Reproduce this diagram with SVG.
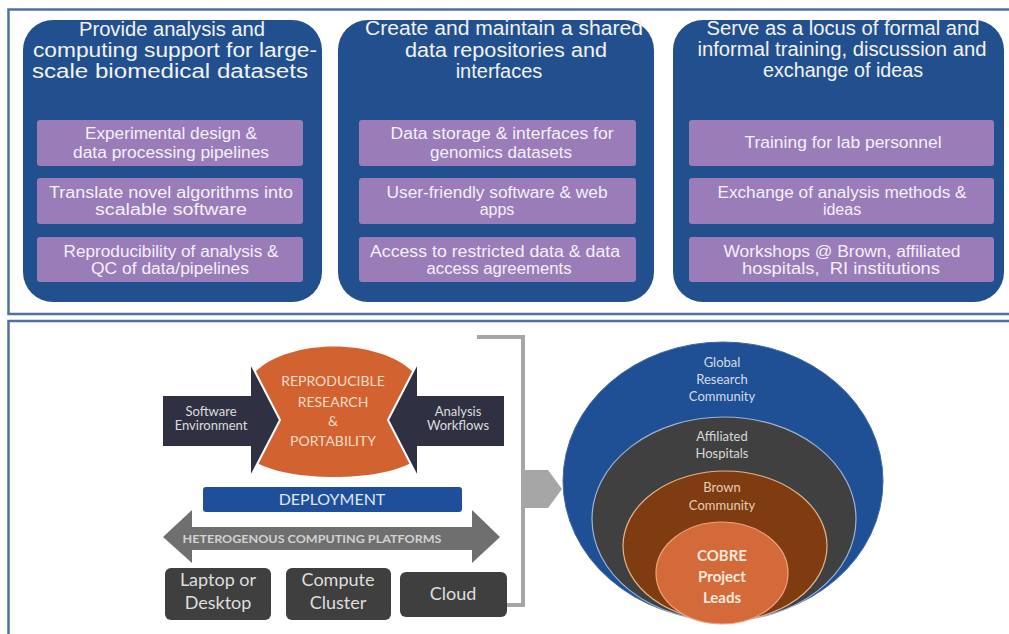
<svg xmlns="http://www.w3.org/2000/svg" width="1009" height="634" viewBox="0 0 1009 634">
<style>
.frame{fill:none;stroke:#4f71a6;stroke-width:2.5}
.card{fill:#22508e}
.item{fill:#9a7cb9}
.ttl{font-family:"Liberation Sans",Arial,sans-serif;font-size:20px;fill:#f2f2f2;text-anchor:middle}
.itx{font-family:"Liberation Sans",Arial,sans-serif;font-size:16px;fill:#f4f0f8;text-anchor:middle}
.lt{font-family:Lato,"Open Sans",sans-serif;text-anchor:middle}
.dark{fill:#2f3142;stroke:#fff;stroke-width:2}
.plat{fill:#3f3f3f}
.ptx{font-size:18px;fill:#dedede}
</style>
<rect width="1009" height="634" fill="#fff"/>
<g id="frames">
<path class="frame" d="M1009,9.5 H8.5 V314 H1009"/>
<path class="frame" d="M1009,321 H8.5 V634"/>
</g>
<g id="card1">
<rect class="card" x="23" y="20" width="299" height="282" rx="30"/>
<text class="ttl" x="172" y="36" textLength="186" lengthAdjust="spacingAndGlyphs">Provide analysis and</text>
<text class="ttl" x="175" y="57" textLength="284" lengthAdjust="spacingAndGlyphs">computing support for large-</text>
<text class="ttl" x="170" y="78" textLength="276" lengthAdjust="spacingAndGlyphs">scale biomedical datasets</text>
<rect class="item" x="37" y="120" width="266" height="46" rx="3"/>
<text class="itx" x="171" y="139" textLength="172" lengthAdjust="spacingAndGlyphs">Experimental design &amp;</text>
<text class="itx" x="171" y="158" textLength="196" lengthAdjust="spacingAndGlyphs">data processing pipelines</text>
<rect class="item" x="37" y="178" width="266" height="46" rx="3"/>
<text class="itx" x="171" y="198" textLength="244" lengthAdjust="spacingAndGlyphs">Translate novel algorithms into</text>
<text class="itx" x="171" y="215" textLength="152" lengthAdjust="spacingAndGlyphs">scalable software</text>
<rect class="item" x="37" y="237" width="266" height="45" rx="3"/>
<text class="itx" x="171" y="257" textLength="215" lengthAdjust="spacingAndGlyphs">Reproducibility of analysis &amp;</text>
<text class="itx" x="170" y="274" textLength="158" lengthAdjust="spacingAndGlyphs">QC of data/pipelines</text>
</g>
<g id="card2">
<rect class="card" x="338" y="20" width="316" height="282" rx="30"/>
<text class="ttl" x="504" y="35" textLength="278" lengthAdjust="spacingAndGlyphs">Create and maintain a shared</text>
<text class="ttl" x="506" y="57" textLength="202" lengthAdjust="spacingAndGlyphs">data repositories and</text>
<text class="ttl" x="499" y="78">interfaces</text>
<rect class="item" x="359" y="120" width="277" height="46" rx="3"/>
<text class="itx" x="502" y="139" textLength="223" lengthAdjust="spacingAndGlyphs">Data storage &amp; interfaces for</text>
<text class="itx" x="501" y="158" textLength="142" lengthAdjust="spacingAndGlyphs">genomics datasets</text>
<rect class="item" x="359" y="178" width="277" height="46" rx="3"/>
<text class="itx" x="497" y="198" textLength="221" lengthAdjust="spacingAndGlyphs">User-friendly software &amp; web</text>
<text class="itx" x="497" y="215">apps</text>
<rect class="item" x="359" y="237" width="277" height="45" rx="3"/>
<text class="itx" x="495" y="257" textLength="250" lengthAdjust="spacingAndGlyphs">Access to restricted data &amp; data</text>
<text class="itx" x="499" y="274" textLength="145" lengthAdjust="spacingAndGlyphs">access agreements</text>
</g>
<g id="card3">
<rect class="card" x="673" y="20" width="331" height="282" rx="30"/>
<text class="ttl" x="843" y="35" textLength="273" lengthAdjust="spacingAndGlyphs">Serve as a locus of formal and</text>
<text class="ttl" x="842" y="56" textLength="289" lengthAdjust="spacingAndGlyphs">informal training, discussion and</text>
<text class="ttl" x="843" y="77" textLength="160" lengthAdjust="spacingAndGlyphs">exchange of ideas</text>
<rect class="item" x="689" y="120" width="305" height="46" rx="3"/>
<text class="itx" x="843" y="148" textLength="197" lengthAdjust="spacingAndGlyphs">Training for lab personnel</text>
<rect class="item" x="689" y="178" width="305" height="46" rx="3"/>
<text class="itx" x="842" y="198" textLength="249" lengthAdjust="spacingAndGlyphs">Exchange of analysis methods &amp;</text>
<text class="itx" x="842" y="215">ideas</text>
<rect class="item" x="689" y="237" width="305" height="45" rx="3"/>
<text class="itx" x="842" y="257" textLength="237" lengthAdjust="spacingAndGlyphs">Workshops @ Brown, affiliated</text>
<text class="itx" x="841" y="274" xml:space="preserve" textLength="198" lengthAdjust="spacingAndGlyphs">hospitals,  RI institutions</text>
</g>
<g id="connectors">
<path d="M477,337 H523 V605 H507" fill="none" stroke="#a6a6a6" stroke-width="4"/>
<polygon points="523,470 548,470 562,489 548,508 523,508" fill="#a6a6a6"/>
</g>
<g id="lens">
<path d="M255,372 C290,338 378,338 413,372 L413,462 C378,482 290,482 255,462 Z" fill="#d2622f"/>
<text class="lt" x="333" y="386" font-size="14" fill="#f8dccb">REPRODUCIBLE</text>
<text class="lt" x="333" y="407" font-size="14" fill="#f8dccb">RESEARCH</text>
<text class="lt" x="333" y="426" font-size="14" fill="#f8dccb">&amp;</text>
<text class="lt" x="333" y="446" font-size="14" fill="#f8dccb">PORTABILITY</text>
</g>
<g id="software">
<polygon class="dark" points="162,395 250,395 250,362 280,420 250,478 250,447 162,447"/>
<text class="lt" x="211" y="416" font-size="13" fill="#dcdcdc">Software</text>
<text class="lt" x="211" y="430" font-size="13" fill="#dcdcdc">Environment</text>
</g>
<g id="analysis">
<polygon class="dark" points="505,395 418,395 418,362 388,420 418,478 418,447 505,447"/>
<text class="lt" x="458" y="416" font-size="13" fill="#dcdcdc">Analysis</text>
<text class="lt" x="458" y="430" font-size="13" fill="#dcdcdc">Workflows</text>
</g>
<g id="deployment">
<rect x="203" y="487" width="259" height="25" rx="3" fill="#1f4f9b"/>
<text class="lt" x="332" y="505" font-size="16" fill="#dfe8f4">DEPLOYMENT</text>
</g>
<g id="platforms">
<polygon points="163,537 192,510 192,527 472,527 472,510 500,537 472,563 472,550 192,550 192,563" fill="#6f6f6f"/>
<text class="lt" x="312" y="543" font-size="12" font-weight="bold" fill="#d2d2d2" textLength="259" lengthAdjust="spacingAndGlyphs">HETEROGENOUS COMPUTING PLATFORMS</text>
</g>
<g id="laptop">
<rect class="plat" x="165" y="568" width="106" height="52" rx="6"/>
<text class="lt ptx" x="218" y="586">Laptop or</text>
<text class="lt ptx" x="218" y="609">Desktop</text>
</g>
<g id="cluster">
<rect class="plat" x="286" y="568" width="105" height="52" rx="6"/>
<text class="lt ptx" x="338" y="586">Compute</text>
<text class="lt ptx" x="338" y="609">Cluster</text>
</g>
<g id="cloud">
<rect class="plat" x="400" y="572" width="107" height="45" rx="6"/>
<text class="lt ptx" x="453" y="600">Cloud</text>
</g>
<g id="global">
<ellipse cx="723" cy="481" rx="160" ry="139" fill="#1f4f95" stroke="#3d67a8" stroke-width="1"/>
<text class="lt" x="722" y="367" font-size="13" fill="#d6dce6">Global</text>
<text class="lt" x="722" y="384" font-size="13" fill="#d6dce6">Research</text>
<text class="lt" x="722" y="401" font-size="13" fill="#d6dce6">Community</text>
</g>
<g id="hospitals">
<ellipse cx="724" cy="519" rx="132" ry="102" fill="#404040" stroke="#9eb4d2" stroke-width="1.2"/>
<text class="lt" x="722" y="441" font-size="13" fill="#d8d8d8">Affiliated</text>
<text class="lt" x="722" y="458" font-size="13" fill="#d8d8d8">Hospitals</text>
</g>
<g id="brown">
<ellipse cx="725" cy="546" rx="102" ry="75" fill="#7e3c10" stroke="#e2b48c" stroke-width="1.2"/>
<text class="lt" x="722" y="492" font-size="13" fill="#e6cdb8">Brown</text>
<text class="lt" x="722" y="510" font-size="13" fill="#e6cdb8">Community</text>
</g>
<g id="cobre">
<ellipse cx="722" cy="573" rx="66" ry="51" fill="#d4693a" stroke="#f0a57c" stroke-width="1.2"/>
<text class="lt" x="722" y="561" font-size="15" font-weight="bold" fill="#fbe9df">COBRE</text>
<text class="lt" x="722" y="582" font-size="15" font-weight="bold" fill="#fbe9df">Project</text>
<text class="lt" x="722" y="603" font-size="15" font-weight="bold" fill="#fbe9df">Leads</text>
</g>
</svg>
